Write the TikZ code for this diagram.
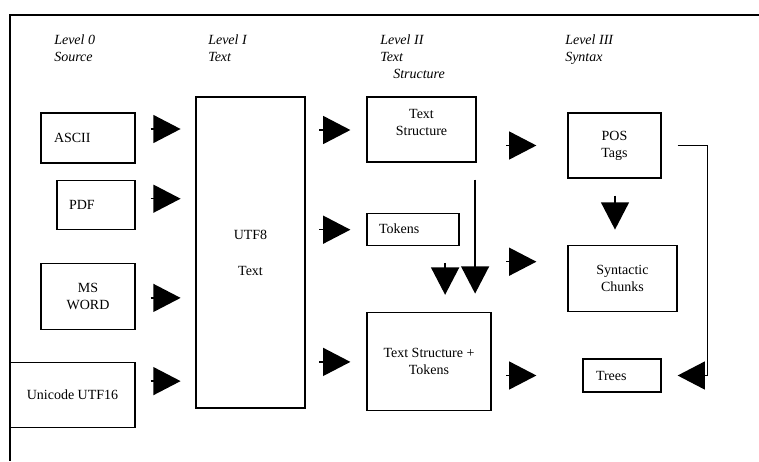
\documentclass[tikz,border=0pt]{standalone}
\usepackage{fontspec}
\setmainfont{Liberation Serif}
\usetikzlibrary{positioning,arrows.meta}

\tikzset{
  box/.style={draw, line width=0.9pt, inner sep=0pt, align=center,
    font=\fontsize{10.5}{12.7}\selectfont},
  leftbox/.style={box, align=left},
  flow/.style={line width=1.1pt, -{Triangle[length=20.5pt,width=21pt]}},
  level/.style={font=\fontsize{10.5}{12.7}\selectfont\itshape, align=left,
    anchor=north west, inner sep=0pt}
}

\begin{document}
\begin{tikzpicture}[x=0.75pt, y=-0.75pt]
  \useasboundingbox (0,0) rectangle (759,461);
  \draw[line width=1pt] (759,15) -- (10,15) -- (10,461);

  % headings
  \node[level] (lvl0) at (54,35) {Level 0\\Source};
  \node[level] (lvl1) at (208,35) {Level I\\Text};
  \node[level] (lvl2) at (380,35) {Level II\\Text\\\hspace*{9.75pt}Structure};
  \node[level] (lvl3) at (565,35) {Level III\\Syntax};

  % level 0
  \node[leftbox, text width=51pt, inner xsep=9.75pt, minimum height=37.5pt] (ascii) at (88,138) {ASCII};
  \node[leftbox, text width=40.5pt, inner xsep=9pt, minimum height=36.75pt,
    below=12pt of ascii.south east, anchor=north east] (pdf) {PDF};
  \node[box, minimum width=70.5pt, minimum height=49.5pt,
    below=24.75pt of pdf.south east, anchor=north east] (msword) {MS\\WORD};
  \node[box, minimum width=93.75pt, minimum height=48.75pt,
    below=24pt of msword.south east, anchor=north east] (utf16) {Unicode UTF16};

  % level I
  \node[box, minimum width=81.75pt, minimum height=233.25pt] (utf8) at (250.5,252.5) {UTF8\\[14.3pt]Text};

  % level II
  \node[box, minimum width=81.75pt, minimum height=48.75pt,
    label={[align=center, font=\fontsize{10.5}{12.7}\selectfont, yshift=5.6pt]center:Text\\Structure}]
    (textstruct) at (421.5,129.5) {};
  \node[leftbox, text width=51pt, inner xsep=9pt, minimum height=24pt,
    below=37.5pt of textstruct.south west, anchor=north west] (tokens) {Tokens};
  \node[box, minimum width=93pt, minimum height=73.5pt,
    below=49.5pt of tokens.south west, anchor=north west] (tsplus) {Text Structure +\\Tokens};

  % level III
  \node[box, minimum width=69.75pt, minimum height=48.75pt] (pos) at (614.5,145.5) {POS\\Tags};
  \node[box, minimum width=81.75pt, minimum height=49.5pt,
    below=49.5pt of pos.south west, anchor=north west] (chunks) {Syntactic\\Chunks};
  \node[leftbox, text width=39pt, inner xsep=9.75pt, minimum height=24.75pt] (trees) at (622,375.5) {Trees};

  % sources to text
  \draw[flow] ([shift={(15,-9)}]ascii.east) -- +(30,0);
  \draw[flow] ([shift={(15,-6)}]pdf.east) -- +(30,0);
  \draw[flow] ([shift={(15,1.5)}]msword.east) -- +(30,0);
  \draw[flow] ([shift={(15,-14)}]utf16.east) -- +(30,0);

  % text to level II
  \draw[flow] ([shift={(-47,0.5)}]textstruct.west) -- ([shift={(-16,0.5)}]textstruct.west);
  \draw[flow] ([shift={(-47,0.5)}]tokens.west) -- ([shift={(-16,0.5)}]tokens.west);
  \draw[flow] ([shift={(-47,0.5)}]tsplus.west) -- ([shift={(-16,0.5)}]tsplus.west);
  \draw[flow] ([shift={(-14.5,17)}]tokens.south east) -- +(0,32);
  \draw[flow] ([shift={(-1.5,17)}]textstruct.south east) -- +(0,114);

  % level II to level III
  \draw[flow] ([shift={(-61,0)}]pos.west) -- ([shift={(-31,0)}]pos.west);
  \draw[flow] ([shift={(-61,-16.5)}]chunks.west) -- ([shift={(-31,-16.5)}]chunks.west);
  \draw[flow] ([shift={(-76,0)}]trees.west) -- ([shift={(-46,0)}]trees.west);
  \draw[flow] ([shift={(0.5,17)}]pos.south) -- +(0,34);
  \draw[flow] ([shift={(16,0)}]pos.east) -- ++(30,0) |- ([shift={(16,0)}]trees.east);
\end{tikzpicture}
\end{document}
